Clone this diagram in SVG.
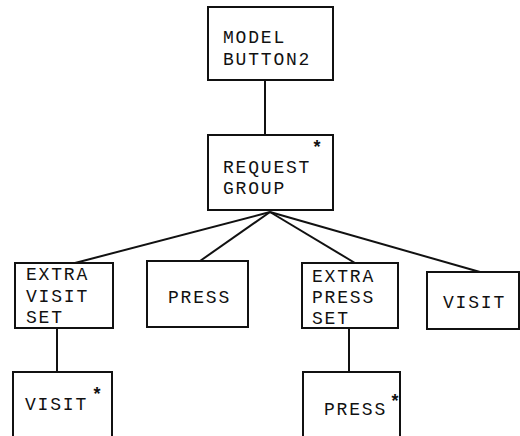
<svg xmlns="http://www.w3.org/2000/svg" width="520" height="436" viewBox="0 0 520 436">
<style>
.box{fill:#fff;stroke:#111;stroke-width:2}
.t{font-family:"Liberation Mono","DejaVu Sans Mono",monospace;font-size:18px;letter-spacing:1.8px;fill:#111}
.star{font-family:"Liberation Sans",Arial,sans-serif;font-size:18px;font-weight:bold;fill:#111;text-anchor:middle}
.c{stroke:#111;stroke-width:2;fill:none}
</style>
<rect width="520" height="436" fill="#fff"/>
<g id="connectors">
<line class="c" x1="265" y1="80" x2="265" y2="135"/>
<line class="c" x1="270" y1="212" x2="75" y2="263"/>
<line class="c" x1="270" y1="212" x2="200" y2="261"/>
<line class="c" x1="270" y1="212" x2="355" y2="263"/>
<line class="c" x1="270" y1="212" x2="480" y2="272"/>
<line class="c" x1="57" y1="328" x2="57" y2="372"/>
<line class="c" x1="349" y1="328" x2="349" y2="372"/>
</g>
<g id="model-button2">
<rect class="box" x="208" y="7" width="125" height="73"/>
<text class="t" x="223" y="43">MODEL</text>
<text class="t" x="223" y="65">BUTTON2</text>
</g>
<g id="request-group">
<rect class="box" x="208" y="135" width="125" height="75"/>
<text class="t" x="223" y="173">REQUEST</text>
<text class="t" x="223" y="194">GROUP</text>
<text class="star" x="317" y="153">*</text>
</g>
<g id="extra-visit-set">
<rect class="box" x="15" y="263" width="98" height="65"/>
<text class="t" x="26" y="280">EXTRA</text>
<text class="t" x="26" y="302">VISIT</text>
<text class="t" x="26" y="323">SET</text>
</g>
<g id="press">
<rect class="box" x="147" y="261" width="101" height="66"/>
<text class="t" x="168" y="303">PRESS</text>
</g>
<g id="extra-press-set">
<rect class="box" x="302" y="263" width="96" height="65"/>
<text class="t" x="312" y="282">EXTRA</text>
<text class="t" x="312" y="303">PRESS</text>
<text class="t" x="312" y="324">SET</text>
</g>
<g id="visit">
<rect class="box" x="427" y="272" width="92" height="57"/>
<text class="t" x="443" y="308">VISIT</text>
</g>
<g id="visit-star">
<rect class="box" x="13" y="372" width="99" height="70"/>
<text class="t" x="25" y="410">VISIT</text>
<text class="star" x="97" y="400">*</text>
</g>
<g id="press-star">
<rect class="box" x="303" y="372" width="97" height="70"/>
<text class="t" x="324" y="415">PRESS</text>
<text class="star" x="395" y="407">*</text>
</g>
</svg>
